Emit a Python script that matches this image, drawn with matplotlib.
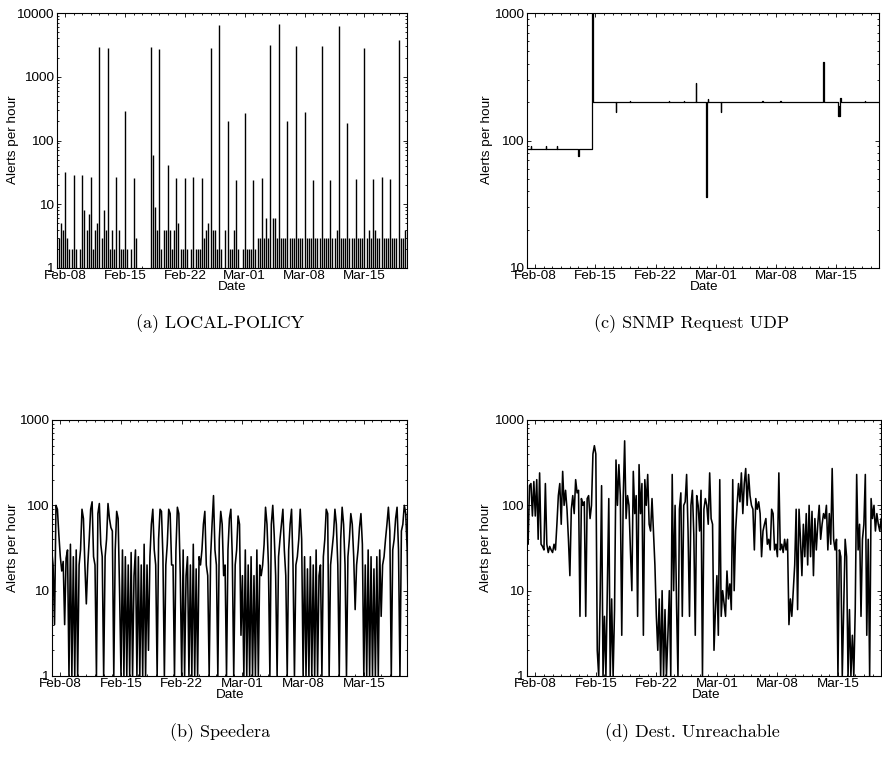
import numpy as np
import matplotlib
matplotlib.use("Agg")
import matplotlib.pyplot as plt
import matplotlib.dates as mdates
from matplotlib.ticker import LogLocator, NullFormatter, FuncFormatter

plt.rcParams['font.family'] = ['Liberation Sans', 'DejaVu Sans']

# ---- data (alerts per hour), first row is Feb-07 ----
START = np.datetime64('2003-02-07T00:00')

# LOCAL-POLICY, 4 samples per day (00, 06, 12, 18 h)
local_policy = [
    [0, 3, 5, 4], [32, 3, 2, 2], [29, 2, 0, 2], [29, 8, 4, 7],
    [27, 2, 4, 5], [2900, 3, 8, 4], [2800, 2, 4, 2], [27, 4, 2, 2],
    [290, 2, 0, 2], [26, 3, 0, 0], [0, 0, 0, 0], [2900, 60, 9, 4],
    [2700, 2, 4, 4], [42, 4, 2, 4], [26, 5, 2, 2], [26, 2, 0, 2],
    [27, 2, 2, 2], [26, 3, 4, 5], [2800, 4, 4, 2], [6500, 2, 0, 4],
    [200, 2, 2, 4], [24, 2, 0, 2], [270, 2, 2, 2], [24, 2, 3, 3],
    [26, 3, 6, 3], [3100, 6, 6, 3], [6800, 3, 3, 3], [200, 3, 3, 3],
    [3000, 3, 3, 3], [280, 3, 3, 3], [24, 3, 3, 3], [3000, 3, 3, 3],
    [24, 3, 3, 4], [6300, 3, 3, 3], [190, 3, 3, 3], [25, 3, 3, 3],
    [2800, 3, 4, 3], [25, 4, 3, 3], [27, 3, 3, 3], [25, 3, 3, 3],
    [3800, 3, 3, 4],
]

# Speedera, 6 samples per day (00, 04, ... 20 h)
speedera = [
    [30, 20, 4, 100, 90, 45], [25, 17, 22, 4, 24, 30], [1, 35, 1, 25, 1, 30],
    [1, 20, 30, 90, 70, 20], [7, 20, 40, 90, 110, 25], [20, 1, 80, 105, 35, 25],
    [1, 25, 40, 105, 70, 55], [50, 1, 30, 85, 70, 10], [1, 30, 1, 25, 1, 20],
    [1, 28, 1, 15, 30, 1], [25, 1, 20, 1, 35, 1], [20, 2, 25, 60, 90, 30],
    [20, 1, 40, 90, 85, 25], [1, 20, 35, 90, 80, 20], [20, 1, 30, 95, 80, 15],
    [1, 30, 1, 15, 25, 1], [20, 1, 35, 1, 18, 1], [25, 20, 30, 60, 85, 20],
    [15, 1, 25, 60, 130, 30], [20, 1, 40, 85, 60, 15], [20, 1, 30, 70, 90, 25],
    [1, 20, 30, 75, 60, 3], [15, 1, 30, 1, 20, 1], [25, 1, 15, 1, 30, 1],
    [20, 15, 20, 35, 95, 60], [20, 1, 60, 100, 45, 15], [1, 25, 40, 60, 90, 30],
    [15, 1, 30, 60, 90, 20], [1, 20, 25, 40, 90, 40], [1, 25, 1, 18, 1, 25],
    [1, 20, 1, 30, 1, 15], [20, 1, 25, 40, 90, 80], [1, 20, 30, 45, 90, 60],
    [20, 1, 40, 95, 60, 20], [1, 25, 40, 80, 60, 25], [6, 20, 30, 55, 80, 35],
    [1, 20, 1, 30, 1, 25], [1, 18, 1, 25, 1, 30], [5, 20, 25, 40, 60, 95],
    [50, 1, 30, 40, 70, 95], [30, 1, 50, 60, 100, 80], [30, 3, 60, 3, 3, 3],
]

# Dest. Unreachable, 6 samples per day
dest_unreach = [
    [40, 35, 170, 180, 75, 190], [75, 200, 40, 240, 35, 33], [30, 180, 35, 28, 33, 30],
    [28, 35, 30, 60, 130, 180], [60, 250, 100, 150, 90, 40], [15, 90, 130, 80, 200, 140],
    [150, 5, 120, 100, 110, 5], [120, 130, 70, 100, 400, 500], [400, 2, 1, 8, 170, 1],
    [5, 1, 12, 120, 1, 8], [1, 6, 340, 100, 300, 130], [3, 120, 570, 70, 130, 100],
    [30, 10, 250, 80, 130, 5], [300, 80, 180, 3, 200, 100], [230, 60, 50, 120, 50, 20],
    [5, 2, 8, 1, 10, 1], [6, 1, 3, 10, 1, 230], [10, 100, 7, 1, 90, 140],
    [5, 100, 110, 230, 50, 5], [100, 150, 45, 3, 130, 100], [50, 150, 1, 90, 120, 100],
    [60, 240, 70, 60, 2, 6], [15, 3, 200, 5, 10, 7], [5, 17, 8, 12, 6, 200],
    [10, 50, 100, 180, 110, 240], [80, 180, 270, 100, 230, 130], [100, 90, 30, 120, 90, 110],
    [80, 25, 50, 60, 70, 35], [40, 30, 90, 80, 30, 35], [25, 240, 30, 35, 28, 40],
    [30, 40, 4, 8, 5, 10], [20, 90, 6, 90, 40, 15], [60, 25, 80, 20, 100, 25],
    [85, 15, 70, 30, 60, 100], [40, 60, 80, 70, 100, 30], [80, 35, 270, 40, 30, 40],
    [1, 30, 25, 1, 6, 40], [25, 1, 6, 1, 3, 1], [6, 230, 30, 60, 5, 40],
    [60, 230, 3, 40, 1, 120], [70, 100, 50, 80, 60, 50], [70, 60, 80, 60, 60, 60],
]

# SNMP Request UDP: change points (days after Feb-07 00:00) and levels
snmp_days = [0.0, 0.48, 0.52, 2.25, 2.29, 3.5, 3.54, 6.0, 6.04, 7.62, 7.67,
             10.40, 10.44, 12.0, 12.04, 16.5, 16.54, 18.3, 18.34, 19.70, 19.74,
             20.88, 20.94, 21.05, 21.09, 22.60, 22.65, 27.4, 27.44, 29.5, 29.54,
             34.50, 34.54, 36.20, 36.30, 36.34, 36.50, 36.56, 39.3, 39.34, 41.2]
snmp_vals = [85, 90, 85, 90, 85, 90, 85, 75, 85, 1000, 200,
             168, 200, 205, 200, 205, 200, 205, 200, 280, 200,
             36, 200, 210, 200, 168, 200, 205, 200, 205, 200,
             410, 200, 155, 185, 155, 215, 200, 205, 200, 200]


def sample_times(rows, per_day):
    n = sum(len(r) for r in rows)
    step = np.timedelta64(24 * 60 // per_day, 'm')
    return START + np.arange(n) * step


def style_axes(ax, ymin, ymax):
    ax.set_yscale('log')
    ax.set_ylim(ymin, ymax)
    ax.set_xlim(np.datetime64('2003-02-07T01:00'), np.datetime64('2003-03-19T23:30'))
    ax.xaxis.set_major_locator(mdates.WeekdayLocator(byweekday=mdates.SA))
    ax.xaxis.set_minor_locator(mdates.DayLocator())
    ax.xaxis.set_major_formatter(mdates.DateFormatter('%b-%d'))
    ax.yaxis.set_major_locator(LogLocator(base=10))
    ax.yaxis.set_minor_locator(LogLocator(base=10, subs=np.arange(2, 10)))
    ax.yaxis.set_minor_formatter(NullFormatter())
    ax.yaxis.set_major_formatter(FuncFormatter(lambda v, p: f'{v:g}'))
    ax.tick_params(which='both', direction='in', top=True, right=True,
                   labelsize=9.7, width=0.6)
    ax.tick_params(which='major', length=3.2)
    ax.tick_params(which='minor', length=1.6)
    ax.tick_params(axis='x', pad=1.5)
    ax.tick_params(axis='y', pad=2.5)
    for sp in ax.spines.values():
        sp.set_linewidth(0.8)


W, H = 882, 765
fig = plt.figure(figsize=(W / 100, H / 100), dpi=100)


def add_panel(l, t, r, b):
    return fig.add_axes([l / W, 1 - b / H, (r - l) / W, (b - t) / H])


# (a) LOCAL-POLICY, drawn as impulses
ax_a = add_panel(57, 13, 407, 268)
lp = np.array(local_policy).ravel()
t_lp = sample_times(local_policy, 4)
ax_a.vlines(t_lp[lp > 0], 1, lp[lp > 0], color='black', linewidth=1.0)
style_axes(ax_a, 1, 10000)

# (c) SNMP Request UDP
ax_c = add_panel(527, 13, 879, 268)
t_snmp = START + (np.array(snmp_days) * 24 * 60).astype(int) * np.timedelta64(1, 'm')
ax_c.plot(t_snmp, snmp_vals, color='black', linewidth=0.9, drawstyle='steps-post')
style_axes(ax_c, 10, 1000)

# (b) Speedera
ax_b = add_panel(52, 420, 407, 676)
sp_vals = np.array([v for row in speedera for v in row])
ax_b.plot(sample_times(speedera, 6), sp_vals, color='black', linewidth=1.15)
style_axes(ax_b, 1, 1000)

# (d) Dest. Unreachable
ax_d = add_panel(527, 420, 881, 676)
du_vals = np.array([v for row in dest_unreach for v in row])
ax_d.plot(sample_times(dest_unreach, 6), du_vals, color='black', linewidth=1.15)
style_axes(ax_d, 1, 1000)

# axis titles and captions placed in pixel coordinates
labels = [
    (12.7, 140, 232, 287, 220, 324, '(a) LOCAL-POLICY'),
    (487, 140, 704, 287, 692, 324, '(c) SNMP Request UDP'),
    (13, 548, 230, 695, 220, 733, '(b) Speedera'),
    (486, 548, 706, 695, 692, 733, '(d) Dest. Unreachable'),
]
for yx, yy, dx, dy, cx, cy, cap in labels:
    fig.text(yx / W, 1 - yy / H, 'Alerts per hour', rotation=90,
             ha='center', va='center', fontsize=9.7)
    fig.text(dx / W, 1 - dy / H, 'Date', ha='center', va='center', fontsize=9.7)
    fig.text(cx / W, 1 - cy / H, cap, ha='center', va='center',
             fontsize=13, family='cmr10')

fig.savefig('out.png', dpi=100)
